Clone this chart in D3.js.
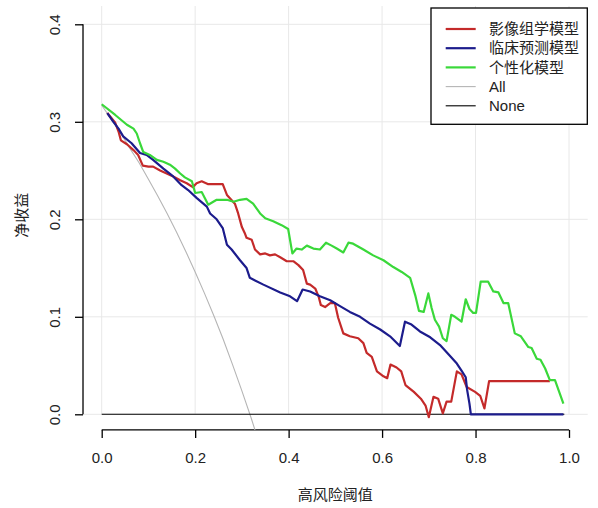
<!DOCTYPE html>
<html>
<head>
<meta charset="utf-8">
<script src="https://cdn.jsdelivr.net/npm/d3@7"></script>
<style>
  body { margin: 0; background: #fff; }
  text { font-family: "Liberation Sans", Arial, "Noto Sans CJK SC", sans-serif; fill: #222; }
</style>
</head>
<body>
<div id="chart"></div>
<script>
var width  = 598;
var height = 508;

var xTicks = [0, 0.2, 0.4, 0.6, 0.8, 1.0];
var yTicks = [0, 0.1, 0.2, 0.3, 0.4];

var seriesNames = ["影像组学模型", "临床预测模型", "个性化模型", "All", "None"];
var colors      = ["#c42a2a", "#1c1c8c", "#3ad83a", "#b5b5b5", "#000000"];

// [threshold, net benefit]
var radiomics = [
    [0.012, 0.309], [0.029, 0.299], [0.036, 0.290], [0.041, 0.281], [0.054, 0.277],
    [0.068, 0.271], [0.078, 0.266], [0.088, 0.255], [0.100, 0.254], [0.110, 0.254],
    [0.125, 0.250], [0.139, 0.247], [0.153, 0.244], [0.168, 0.240], [0.182, 0.237],
    [0.195, 0.233], [0.203, 0.237], [0.214, 0.239], [0.228, 0.236], [0.259, 0.236],
    [0.268, 0.225], [0.285, 0.216], [0.292, 0.206], [0.300, 0.192], [0.306, 0.186],
    [0.310, 0.181], [0.321, 0.179], [0.328, 0.169], [0.339, 0.164], [0.350, 0.165],
    [0.360, 0.163], [0.371, 0.164], [0.382, 0.161], [0.396, 0.157], [0.410, 0.157],
    [0.421, 0.153], [0.431, 0.148], [0.439, 0.134], [0.446, 0.133], [0.457, 0.129],
    [0.464, 0.121], [0.469, 0.112], [0.478, 0.110], [0.489, 0.114], [0.499, 0.114],
    [0.506, 0.099], [0.517, 0.083], [0.531, 0.080], [0.549, 0.078], [0.560, 0.073],
    [0.567, 0.063], [0.578, 0.059], [0.589, 0.044], [0.603, 0.039], [0.611, 0.037],
    [0.618, 0.051], [0.631, 0.048], [0.641, 0.044], [0.650, 0.030], [0.668, 0.023],
    [0.683, 0.016], [0.693, 0.009], [0.700, -0.003], [0.710, 0.018], [0.720, 0.016],
    [0.730, 0.001], [0.738, 0.013], [0.748, 0.013], [0.760, 0.044], [0.770, 0.041],
    [0.781, 0.028], [0.799, 0.023], [0.810, 0.019], [0.819, 0.006], [0.829, 0.034],
    [0.959, 0.034]
];

var clinical = [
    [0.012, 0.309], [0.025, 0.300], [0.036, 0.293], [0.046, 0.285], [0.064, 0.278],
    [0.082, 0.268], [0.096, 0.266], [0.110, 0.261], [0.132, 0.252], [0.153, 0.244],
    [0.171, 0.235], [0.185, 0.230], [0.203, 0.222], [0.225, 0.213], [0.232, 0.206],
    [0.246, 0.200], [0.259, 0.191], [0.268, 0.174], [0.278, 0.169], [0.296, 0.158],
    [0.310, 0.150], [0.317, 0.140], [0.346, 0.133], [0.382, 0.125], [0.403, 0.121],
    [0.418, 0.116], [0.430, 0.128], [0.446, 0.126], [0.467, 0.121], [0.489, 0.117],
    [0.510, 0.111], [0.531, 0.105], [0.553, 0.100], [0.574, 0.093], [0.596, 0.087],
    [0.617, 0.080], [0.638, 0.070], [0.649, 0.095], [0.663, 0.092], [0.681, 0.085],
    [0.703, 0.079], [0.724, 0.071], [0.745, 0.060], [0.760, 0.052], [0.771, 0.044],
    [0.779, 0.038], [0.782, 0.025], [0.787, 0.011], [0.790, 0.000], [0.988, 0.000]
];

var personal = [
    [0.000, 0.318], [0.029, 0.307], [0.054, 0.297], [0.068, 0.293], [0.075, 0.288],
    [0.082, 0.278], [0.089, 0.269], [0.103, 0.266], [0.118, 0.261], [0.132, 0.259],
    [0.146, 0.256], [0.157, 0.252], [0.168, 0.247], [0.178, 0.243], [0.193, 0.239],
    [0.200, 0.227], [0.214, 0.228], [0.228, 0.215], [0.246, 0.220], [0.268, 0.220],
    [0.282, 0.218], [0.296, 0.220], [0.310, 0.221], [0.324, 0.216], [0.339, 0.206],
    [0.350, 0.201], [0.367, 0.198], [0.385, 0.194], [0.399, 0.190], [0.408, 0.165],
    [0.417, 0.170], [0.428, 0.169], [0.439, 0.173], [0.453, 0.170], [0.467, 0.169],
    [0.480, 0.176], [0.492, 0.173], [0.503, 0.170], [0.517, 0.166], [0.528, 0.176],
    [0.538, 0.175], [0.560, 0.169], [0.581, 0.163], [0.603, 0.158], [0.624, 0.151],
    [0.642, 0.146], [0.660, 0.140], [0.671, 0.122], [0.679, 0.106], [0.689, 0.105],
    [0.699, 0.124], [0.706, 0.109], [0.713, 0.097], [0.722, 0.090], [0.730, 0.078],
    [0.738, 0.075], [0.748, 0.102], [0.756, 0.100], [0.770, 0.095], [0.779, 0.118],
    [0.787, 0.108], [0.795, 0.104], [0.801, 0.104], [0.811, 0.136], [0.827, 0.136],
    [0.838, 0.126], [0.849, 0.125], [0.860, 0.114], [0.870, 0.114], [0.884, 0.083],
    [0.897, 0.080], [0.913, 0.069], [0.920, 0.068], [0.931, 0.057], [0.939, 0.056],
    [0.949, 0.047], [0.959, 0.035], [0.970, 0.035], [0.988, 0.011]
];

var treatAll = [
    [0.00, 0.317], [0.02, 0.303], [0.04, 0.289], [0.06, 0.273], [0.08, 0.258],
    [0.10, 0.241], [0.12, 0.224], [0.14, 0.206], [0.16, 0.187], [0.18, 0.167],
    [0.20, 0.146], [0.22, 0.124], [0.24, 0.101], [0.26, 0.077], [0.28, 0.051],
    [0.30, 0.024], [0.32, -0.004], [0.328, -0.016]
];

var treatNone = [[0.00, 0], [0.99, 0]];

var x = d3.scaleLinear().domain([0, 1]).range([101.7, 569]);
var y = d3.scaleLinear().domain([0, 0.4]).range([414.3, 24.3]);

var xLeft  = x(-0.04), xRight = x(1.04);
var yTop   = y(0.416), yBottom = y(-0.016);

var svg = d3.select("#chart")
    .append("svg")
    .attr("width", width)
    .attr("height", height);

svg.append("defs").append("clipPath")
    .attr("id", "plotclip")
    .append("rect")
    .attr("x", xLeft)
    .attr("y", yTop)
    .attr("width", xRight - xLeft)
    .attr("height", yBottom - yTop);

// grid
svg.append("g").selectAll("line")
    .data(xTicks)
    .enter().append("line")
    .attr("x1", function(d) { return x(d); })
    .attr("x2", function(d) { return x(d); })
    .attr("y1", 6)
    .attr("y2", y(0))
    .attr("stroke", "#e8e8e8")
    .attr("stroke-width", 1);

svg.append("g").selectAll("line")
    .data(yTicks)
    .enter().append("line")
    .attr("x1", xLeft)
    .attr("x2", xRight)
    .attr("y1", function(d) { return y(d); })
    .attr("y2", function(d) { return y(d); })
    .attr("stroke", "#e8e8e8")
    .attr("stroke-width", 1);

// axes
var xAxis = d3.axisBottom(x).tickValues(xTicks).tickFormat(d3.format(".1f")).tickSize(8).tickPadding(14);
var yAxis = d3.axisLeft(y).tickValues(yTicks).tickFormat(d3.format(".1f")).tickSize(8).tickPadding(12);

var gx = svg.append("g")
    .attr("transform", "translate(0," + yBottom + ")")
    .call(xAxis);

var gy = svg.append("g")
    .attr("transform", "translate(" + xLeft + ",0)")
    .call(yAxis);

[gx, gy].forEach(function(g) {
    g.select(".domain").attr("stroke", "#000").attr("stroke-width", 1.3);
    g.selectAll(".tick line").attr("stroke", "#000").attr("stroke-width", 1.3);
    g.selectAll(".tick text").style("font-size", "15px").attr("fill", "#222");
});
gx.select(".domain").attr("d", "M" + x(0) + ",0H" + x(1));
gy.select(".domain").attr("d", "M0," + y(0) + "V" + y(0.4));

gy.selectAll(".tick text")
    .attr("text-anchor", "middle")
    .attr("dy", null)
    .attr("x", null)
    .attr("transform", "translate(-27,0) rotate(-90)")
    .attr("dominant-baseline", "middle");

// axis titles
svg.append("text")
    .attr("x", (xLeft + xRight) / 2)
    .attr("y", 500)
    .attr("text-anchor", "middle")
    .style("font-size", "15px")
    .text("高风险阈值");

svg.append("text")
    .attr("transform", "translate(27," + ((yTop + yBottom) / 2 - 4) + ") rotate(-90)")
    .attr("text-anchor", "middle")
    .style("font-size", "15px")
    .text("净收益");

// curves
var line = d3.line()
    .x(function(d) { return x(d[0]); })
    .y(function(d) { return y(d[1]); });

var curves = [
    { data: treatAll,  color: colors[3], w: 1.1 },
    { data: treatNone, color: colors[4], w: 1.1 },
    { data: radiomics, color: colors[0], w: 2.2 },
    { data: clinical,  color: colors[1], w: 2.2 },
    { data: personal,  color: colors[2], w: 2.2 }
];

svg.append("g")
    .attr("clip-path", "url(#plotclip)")
    .selectAll("path")
    .data(curves)
    .enter().append("path")
    .attr("d", function(d) { return line(d.data); })
    .attr("fill", "none")
    .attr("stroke", function(d) { return d.color; })
    .attr("stroke-width", function(d) { return d.w; })
    .attr("stroke-linejoin", "round");

// legend
var legend = svg.append("g");

legend.append("rect")
    .attr("x", 431)
    .attr("y", 8)
    .attr("width", 156.3)
    .attr("height", 116.3)
    .attr("fill", "#fff")
    .attr("stroke", "#000")
    .attr("stroke-width", 1.3);

var row = legend.selectAll(".row")
    .data(seriesNames)
    .enter().append("g")
    .attr("class", "row")
    .attr("transform", function(d, i) { return "translate(0," + (29 + i * 19.2) + ")"; });

row.append("line")
    .attr("x1", 445.7)
    .attr("x2", 475.7)
    .attr("stroke", function(d, i) { return colors[i]; })
    .attr("stroke-width", function(d, i) { return i < 3 ? 2.2 : 1.1; });

row.append("text")
    .attr("x", 489)
    .attr("dy", "0.35em")
    .style("font-size", "15px")
    .text(function(d) { return d; });
</script>
</body>
</html>
